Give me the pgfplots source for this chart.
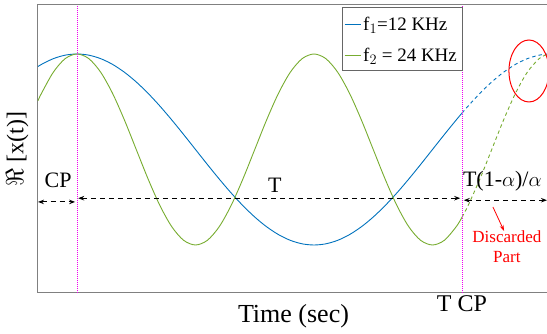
\documentclass[border=0pt]{standalone}
\usepackage{pgfplots}
\pgfplotsset{compat=1.18}
\usepackage{fontspec}
\setmainfont{Liberation Serif}
\usetikzlibrary{arrows.meta}
\definecolor{mblue}{RGB}{0,114,189}
\definecolor{mgreen}{RGB}{119,172,48}
\definecolor{mag}{RGB}{240,0,240}
\begin{document}
\begin{tikzpicture}
\path[use as bounding box] (-38pt,-41pt) rectangle (509pt,293pt);
\begin{axis}[
  scale only axis,
  width=511pt, height=288pt,
  xmin=-0.1646, xmax=1.9916,
  ymin=-1.5026, ymax=1.513,
  xtick=\empty, ytick=\empty,
  clip=false,
  axis line style={draw=black!50, line width=1pt},
  legend style={at={(rel axis cs:0.5949,0.993)}, anchor=north west,
    draw=none, fill=none, font=\fontsize{19}{21}\selectfont,
    row sep=12pt, inner xsep=2pt, inner ysep=8pt, cells={anchor=west}},
  legend image code/.code={\draw[#1, line width=1pt] (0pt,0pt) -- (16pt,0pt);},
]
% blue f1 (solid)
\addplot[mblue, line width=0.9pt, smooth] coordinates {
(-0.1646,0.8692) (-0.15,0.8910) (-0.10,0.9511) (-0.05,0.9877) (0,1)
(0.05,0.9877) (0.10,0.9511) (0.15,0.8910) (0.20,0.8090) (0.25,0.7071)
(0.30,0.5878) (0.35,0.4540) (0.40,0.3090) (0.45,0.1564) (0.50,0)
(0.55,-0.1564) (0.60,-0.3090) (0.65,-0.4540) (0.70,-0.5878) (0.75,-0.7071)
(0.80,-0.8090) (0.85,-0.8910) (0.90,-0.9511) (0.95,-0.9877) (1.00,-1)
(1.05,-0.9877) (1.10,-0.9511) (1.15,-0.8910) (1.20,-0.8090) (1.25,-0.7071)
(1.30,-0.5878) (1.35,-0.4540) (1.40,-0.3090) (1.45,-0.1564) (1.50,0)
(1.55,0.1564) (1.60,0.3090) (1.6245,0.3812)};
\addlegendentry{f$_1$=12 KHz}
% green f2 (solid)
\addplot[mgreen, line width=0.9pt, smooth] coordinates {
(-0.1646,0.5113) (-0.15,0.5878) (-0.10,0.8090) (-0.05,0.9511) (0,1)
(0.05,0.9511) (0.10,0.8090) (0.15,0.5878) (0.20,0.3090) (0.25,0)
(0.30,-0.3090) (0.35,-0.5878) (0.40,-0.8090) (0.45,-0.9511) (0.50,-1)
(0.55,-0.9511) (0.60,-0.8090) (0.65,-0.5878) (0.70,-0.3090) (0.75,0)
(0.80,0.3090) (0.85,0.5878) (0.90,0.8090) (0.95,0.9511) (1.00,1)
(1.05,0.9511) (1.10,0.8090) (1.15,0.5878) (1.20,0.3090) (1.25,0)
(1.30,-0.3090) (1.35,-0.5878) (1.40,-0.8090) (1.45,-0.9511) (1.50,-1)
(1.55,-0.9511) (1.60,-0.8090) (1.6245,-0.7092)};
\addlegendentry{f$_2$ = 24 KHz}
% dashed continuations
\addplot[mblue, line width=0.9pt, smooth, dash pattern=on 3.5pt off 3pt, forget plot] coordinates {
(1.6245,0.3812) (1.65,0.4540) (1.70,0.5878) (1.75,0.7071) (1.80,0.8090)
(1.85,0.8910) (1.90,0.9511) (1.95,0.9877) (1.983,0.9986)};
\addplot[mgreen, line width=0.9pt, smooth, dash pattern=on 3.5pt off 3pt, forget plot] coordinates {
(1.6245,-0.7092) (1.65,-0.5878) (1.70,-0.3090) (1.75,0) (1.80,0.3090)
(1.85,0.5878) (1.90,0.8090) (1.95,0.9511) (1.983,0.9943)};
% magenta dotted lines
\addplot[mag, line width=0.7pt, dash pattern=on 1pt off 1pt, forget plot] coordinates {(0,-1.5026) (0,1.513)};
\addplot[mag, line width=0.7pt, dash pattern=on 1pt off 1pt, forget plot] coordinates {(1.6245,-1.5026) (1.6245,1.513)};
% legend frame
\draw[black!60, line width=0.8pt] (rel axis cs:0.5949,0.993) rectangle (rel axis cs:0.8297,0.774);
% arrows
\draw[black, line width=1.1pt, dash pattern=on 5pt off 4pt, {Stealth[length=6pt,width=4.5pt]}-{Stealth[length=6pt,width=4.5pt]}]
  (axis cs:-0.1646,-0.549) -- (axis cs:-0.008,-0.549);
\draw[black, line width=1.1pt, dash pattern=on 5pt off 4pt, {Stealth[length=6pt,width=4.5pt]}-{Stealth[length=6pt,width=4.5pt]}]
  (axis cs:0.005,-0.510) -- (axis cs:1.617,-0.510);
\draw[black, line width=1.1pt, dash pattern=on 5pt off 4pt, {Stealth[length=6pt,width=4.5pt]}-{Stealth[length=6pt,width=4.5pt]}]
  (axis cs:1.632,-0.531) -- (axis cs:1.983,-0.531);
% labels
\node[font=\fontsize{22}{24}\selectfont] at (axis cs:-0.080,-0.319) {CP};
\node[font=\fontsize{22}{24}\selectfont] at (axis cs:0.835,-0.372) {T};
\node[font=\fontsize{22}{24}\selectfont, anchor=west, inner sep=0pt] at (axis cs:1.628,-0.33) {T(1-$\alpha$)/$\alpha$};
\node[font=\fontsize{17}{20}\selectfont, red, align=center] at (axis cs:1.814,-1.021) {Discarded\\Part};
\draw[red, line width=0.8pt, -{Stealth[length=6pt,width=4pt]}] (axis cs:1.755,-0.602) -- (axis cs:1.802,-0.853);
\draw[red, line width=1pt] (axis cs:1.907,0.822) ellipse [x radius=20pt, y radius=31pt];
\node[font=\fontsize{24}{26}\selectfont, anchor=north, inner sep=2pt] at (axis cs:1.6245,-1.5026) {T CP};
\node[font=\fontsize{26}{28}\selectfont, anchor=north, inner sep=0pt] at (rel axis cs:0.5,-0.04) {Time (sec)};
\node[font=\fontsize{24}{26}\selectfont, rotate=90] at (rel axis cs:-0.0406,0.5) {$\Re$ [x(t)]};
\end{axis}
\end{tikzpicture}
\end{document}
